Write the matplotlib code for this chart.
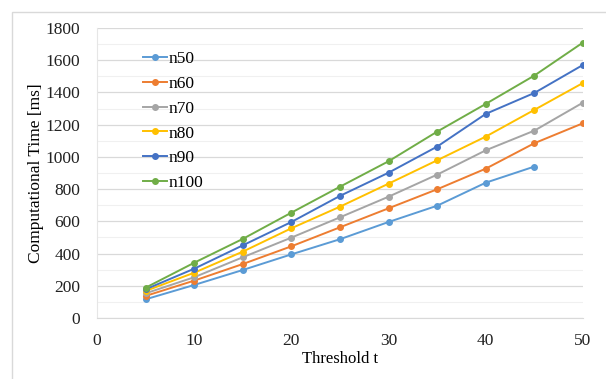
import numpy as np
import matplotlib
matplotlib.use('Agg')
import matplotlib.pyplot as plt
from matplotlib.patches import Rectangle

# Data
threshold = [5, 10, 15, 20, 25, 30, 35, 40, 45, 50]
n50 = [116, 205, 298, 395, 489, 596, 697, 840, 940]
n60 = [137, 232, 335, 445, 563, 681, 799, 927, 1085, 1209]
n70 = [153, 253, 377, 499, 625, 753, 890, 1041, 1163, 1337]
n80 = [168, 281, 412, 557, 691, 834, 979, 1126, 1292, 1459]
n90 = [178, 306, 451, 596, 758, 902, 1064, 1267, 1397, 1571]
n100 = [188, 343, 491, 654, 815, 973, 1157, 1329, 1505, 1710]

series = [('n50', n50, '#5B9BD5'),
          ('n60', n60, '#ED7D31'),
          ('n70', n70, '#A5A5A5'),
          ('n80', n80, '#FFC000'),
          ('n90', n90, '#4472C4'),
          ('n100', n100, '#70AD47')]

plt.rcParams['font.family'] = ['Liberation Serif', 'DejaVu Serif']

fig = plt.figure(figsize=(6.06, 3.79), dpi=100)
# outer chart frame
fig.patches.append(Rectangle((12 / 606, -0.1), 1.2, 1 - 12 / 379 + 0.1,
                             transform=fig.transFigure, fill=False,
                             edgecolor='#D9D9D9', linewidth=1.0))

ax = fig.add_axes([97 / 606, 1 - 318 / 379, (583 - 97) / 606, (318 - 28) / 379])

for name, vals, col in series:
    ax.plot(threshold[:len(vals)], vals, color=col, lw=1.4, marker='o',
            markersize=4, label=name)

ax.set_xlim(0, 50)
ax.set_ylim(0, 1800)
ax.set_xticks(np.arange(0, 51, 10))
ax.set_yticks(np.arange(0, 1801, 200))
ax.set_yticks(np.arange(0, 1801, 100), minor=True)
ax.grid(axis='y', which='major', color='#D9D9D9', lw=0.9)
ax.grid(axis='y', which='minor', color='#F0F0F0', lw=0.8)
ax.set_axisbelow(True)
ax.tick_params(which='both', length=0, labelsize=12.5, colors='#222222')
ax.tick_params(axis='x', pad=11)
ax.tick_params(axis='y', pad=12)

for s in ['top', 'right']:
    ax.spines[s].set_visible(False)
ax.spines['bottom'].set_color('#D9D9D9')
ax.spines['left'].set_color('#E6E6E6')

ax.set_xlabel('Threshold t', fontsize=12, labelpad=1)
ax.set_ylabel('Computational Time [ms]', fontsize=12.5, labelpad=1)

ax.legend(loc='upper left', bbox_to_anchor=(0.062, 0.975), frameon=False,
          fontsize=12.5, handlelength=1.4, handletextpad=0.1, labelspacing=0.5)

fig.savefig('out.png', dpi=100)
